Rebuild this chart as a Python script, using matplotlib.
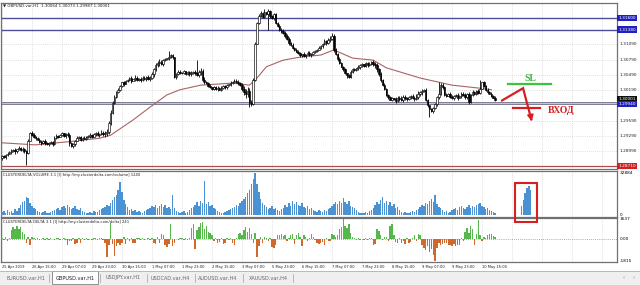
import numpy as np
import matplotlib.pyplot as plt
from matplotlib.patches import Rectangle
from matplotlib.lines import Line2D

# ---- data (GBPUSD H1, 25 Apr - 10 May 2019) ----
close = [1.2890, 1.2888, 1.2893, 1.2895,
         1.2898, 1.2900, 1.2902, 1.2899, 1.2903, 1.2905, 1.2901, 1.2904,
         1.2900, 1.2897,
         1.2920, 1.2935, 1.2932, 1.2928,
         1.2925, 1.2922, 1.2918, 1.2916, 1.2920,
         1.2915, 1.2913, 1.2916, 1.2917, 1.2914,
         1.2926, 1.2930, 1.2928, 1.2932, 1.2935, 1.2929, 1.2933, 1.2931,
         1.2915, 1.2910, 1.2913,
         1.2920, 1.2925, 1.2927, 1.2922, 1.2926, 1.2924, 1.2928,
         1.2930, 1.2932, 1.2928, 1.2933, 1.2935, 1.2931, 1.2934, 1.2936, 1.2933, 1.2935, 1.2937,
         1.2955, 1.2975, 1.2995,
         1.3005, 1.3015, 1.3020, 1.3028,
         1.3035, 1.3032, 1.3038,
         1.3040, 1.3043, 1.3038, 1.3041, 1.3044, 1.3040, 1.3042, 1.3039, 1.3043, 1.3041, 1.3045, 1.3042, 1.3044,
         1.3050, 1.3060, 1.3068, 1.3072,
         1.3075, 1.3070, 1.3078, 1.3080, 1.3082,
         1.3085, 1.3088, 1.3084,
         1.3045,
         1.3050, 1.3055, 1.3052, 1.3053, 1.3056, 1.3051, 1.3054, 1.3050, 1.3053, 1.3055, 1.3052, 1.3049, 1.3054, 1.3057,
         1.3040, 1.3035, 1.3033,
         1.3028, 1.3025, 1.3022, 1.3026, 1.3021, 1.3024, 1.3020, 1.3023, 1.3027, 1.3025, 1.3029, 1.3031, 1.3034, 1.3035,
         1.3038, 1.3036, 1.3033, 1.3030,
         1.3022, 1.3015, 1.3012, 1.3018,
         1.2995, 1.2992,
         1.3040, 1.3110, 1.3150, 1.3165,
         1.3170, 1.3162, 1.3172, 1.3168, 1.3175, 1.3164, 1.3160, 1.3168,
         1.3150, 1.3145, 1.3138, 1.3135, 1.3132,
         1.3125, 1.3120, 1.3112, 1.3108, 1.3102, 1.3098, 1.3094,
         1.3092, 1.3088, 1.3090, 1.3086, 1.3089, 1.3092, 1.3088, 1.3090, 1.3093, 1.3095, 1.3098, 1.3102, 1.3105,
         1.3110, 1.3115, 1.3112, 1.3118, 1.3120,
         1.3125,
         1.3098, 1.3090,
         1.3080, 1.3072, 1.3065, 1.3060,
         1.3052, 1.3048, 1.3045,
         1.3055, 1.3060, 1.3058, 1.3062, 1.3064,
         1.3068, 1.3070, 1.3066, 1.3072, 1.3069, 1.3071, 1.3074, 1.3070, 1.3068,
         1.3060, 1.3050, 1.3040, 1.3030, 1.3022,
         1.3010, 1.3005, 1.3000, 1.3003, 1.3001, 1.2998, 1.3004, 1.3002, 1.3000, 1.3006,
         1.3003, 1.3001, 1.3005, 1.3008, 1.3004, 1.3002, 1.3006, 1.3012, 1.3015, 1.3018,
         1.3020,
         1.3000, 1.2990, 1.2982, 1.2978, 1.2985, 1.2992,
         1.3005, 1.3012, 1.3030, 1.3025,
         1.3010, 1.3008, 1.3012, 1.3006, 1.3003, 1.3008, 1.3010, 1.3004, 1.3007, 1.3012, 1.3009, 1.3005, 1.3011,
         1.2996,
         1.3010, 1.3015, 1.3012, 1.3018, 1.3014, 1.3022, 1.3035, 1.3028,
         1.3020, 1.3015, 1.3012, 1.3008, 1.3004, 1.3000]
first_open = 1.2886

# upper / lower shadow of each bar in pips, one digit per bar
upper_wick = ("231324231423213243123423"
              "213243122134532142313223"
              "132425356453423213212314"
              "213432324354642312231243"
              "231324234564532312132423"
              "213243324577653423432132"
              "323243534423243213243232"
              "132243454532431212323143"
              "213243545342312321434533"
              "232435634232132324343423"
              "321324343524323213232313")
lower_wick = ("324213243213423132312423"
              "132423213243524312231324"
              "213243465342312324132413"
              "324213243543523213242312"
              "123243243465423132231324"
              "324213435686432312321243"
              "232324243432312432312321"
              "213324353423213242131234"
              "312432456453223132324243"
              "323243545323213243232312"
              "232413243423232312231212")
# longer wicks: bar index -> (high, low)
wicks = {13: (None, 1.2872), 89: (1.3095, None), 104: (1.3078, None),
         132: (None, 1.2986), 140: (1.3178, None), 142: (None, 1.3137),
         176: (1.3131, None), 228: (None, 1.2967), 233: (1.3036, None),
         255: (1.3040, None)}

ma_idx = [0, 18, 35, 52, 58, 70, 79, 88, 95, 106, 123, 132, 136, 141, 150,
          159, 170, 177, 187, 198, 205, 223, 240, 255, 261]
ma_val = [1.2916, 1.2912, 1.2918, 1.2925, 1.2931, 1.2961, 1.2986, 1.3010, 1.3020,
          1.3029, 1.3033, 1.3029, 1.3043, 1.3065, 1.3078, 1.3084, 1.3088, 1.3098,
          1.3082, 1.3078, 1.3063, 1.3043, 1.3029, 1.3023, 1.3020]

volume = [2400, 3200, 1600, 4000, 2400, 3200, 2000, 4800, 3200, 5600,
          8000, 10400, 11200, 14400, 13600, 9600, 7200, 5600, 4800,
          3200, 2400, 1600, 2400, 3200, 2000, 1600, 2400, 3200, 4000,
          4800, 5600, 4000, 6400, 7200, 5600, 8000, 6400, 4800, 5600, 7200, 4800, 4000, 5600, 3200,
          2400, 1600, 2000, 2400, 1600, 3200, 2400, 2800, 4000, 4800,
          5600, 6400, 8000, 7200, 9600, 12000, 14400, 16000, 20000, 25600, 18400, 12000, 8800, 6400,
          4000, 4800, 3200, 4000, 2400, 3200, 2400, 1600, 3200, 4000, 4800,
          5600, 7200, 6400, 8000, 5600, 7200, 8800, 6400, 8000, 5600, 6400, 4800, 16000, 5600,
          3200, 2400, 1600, 2400, 3200, 2000, 2400, 4000, 5600,
          6400, 8000, 10400, 7200, 11200, 9600, 26400, 8800, 10400, 7200, 8000, 5600, 4800,
          3200, 2400, 2000, 1600, 2400, 3200, 4000, 4800,
          5600, 6400, 8000, 7200, 9600, 11200, 12800, 14400, 17600, 20000, 24000, 28000, 32884,
          24000, 18400, 12800, 9600, 8000,
          6400, 4800, 5600, 7200, 4800, 5600, 4000, 3200, 4800,
          5600, 8000, 6400, 9600, 7200, 11200, 8800, 10400, 8000, 7200, 9600, 6400, 5600, 7200, 4800, 5600, 4000,
          3200, 2400, 4000, 3200, 2400, 4000, 3200, 4800,
          5600, 7200, 8800, 10400, 8800, 11200, 9600, 13600, 10400, 8800, 11200, 7200, 6400, 5600, 4000,
          2400, 1600, 2000, 1600, 2400, 1600, 3200, 4000,
          5600, 8000, 10400, 8800, 12000, 14400, 9600, 11200, 8000, 10400, 7200, 8800, 5600, 6400, 4000,
          2400, 1600, 2400, 2000, 1600, 2400, 3200, 2400, 4000, 4800,
          6400, 8000, 7200, 9600, 8800, 11200, 12800, 10400, 16000, 8800, 6400, 5600, 4000,
          2400, 3200, 1600, 2400, 4000,
          4800, 5600, 4000, 6400, 7200, 5600, 4800, 6400, 8000, 5600, 7200, 6400, 8000, 8800,
          9600, 7200, 6400, 4800, 5600, 4000, 3200, 2400, 1600]

delta = [120, -80, 200, -150, 90,
         700, 1000, 860, 1100, 780, 950, 600, 400,
         -300, 200, -450, 150,
         60, -50, 80, -90, 40, 100, -60, 50, -40, 70, 30, -80, 90, 60, -70, 40, 120, -100,
         -500, -200,
         -150, 100, -400, -350, 80, -300, 60, -120, 90, -50,
         40, -60, 80, 50, -40, 100, 60, -80,
         -300, -1450, -500, 1300, -400, -1350, -600, -300,
         -450, -350, 150, -400, 100, -200, 80, -300, -350, 60,
         50, -40, 60, -80, 40, 100, -60, 50,
         -350, -400, 200, -300, 450, 350,
         -500, -650, -400, 1250, -550, -300,
         40, -50, 60, 80, -40, 50, -60, 70,
         900, 1200, -850, 700, 1000, 1300, 1400, 800, 1100, 600, 500, 300,
         -200, 100, -300, -250, 60, -400, -300, 80, -100, 50,
         -350, -450, 100, 400, 500, 350, 700, 1000,
         600, 900, 400, -300, 500, -1450, -600, 200, -300, 150,
         100, -200, 80, -650, -700, -500, 300,
         350, 400, 250, 300, -150, 80,
         300, 450, -400, 350, 500, 200, -600, 300, 150, -200, 100, 400, 200, -100,
         -350, -400, -300, -250, -500, 100, -150, -200,
         400, 350, 200,
         300, 800, 1000, 1637, 1100, 900, 1250, 500, 200,
         60, -80, 100, -50, 40, -60, 80, -100, 50, 60,
         -450, -400, 800, 650, 300,
         -100, 150, 200, -150, 1100, 1200, 300,
         -250, -300, 100, -350, -200, -400, 80, -300, -250, 100, 300, -150, 400,
         350, -500, -700, -900, -600, -1100, -800, -1300, -1815, -700, -350, -450, -400, -300, -350,
         -500, -450, -550, -400, -600, -500, -450, 100, -200,
         600, 900, 500, 1100, 800, -450, 400, 1560,
         300, -200, 150, 80, 350, 450, 380, 250, 150]

boxed_idx = [277, 278, 279, 280, 281, 282]
boxed_vol = [7000, 12000, 17000, 21000, 22500, 20000]

price_ticks = [1.28990, 1.29290, 1.29590, 1.30190, 1.30490, 1.30790, 1.31090]
blue_levels = [1.31600, 1.31380]
entry_level = 1.29940
low_level = 1.28710
last_price = 1.30001

time_labels = ["25 Apr 2019", "26 Apr 15:00", "29 Apr 07:00", "29 Apr 23:00", "30 Apr 15:00",
               "1 May 07:00", "1 May 23:00", "2 May 15:00", "3 May 07:00", "5 May 23:00",
               "6 May 15:00", "7 May 07:00", "7 May 23:00", "8 May 15:00", "9 May 07:00",
               "9 May 23:00", "10 May 15:00"]
tabs = ["EURUSD.var,H1", "GBPUSD.var,H1", "USDJPY.var,H1", "USDCAD.var,H4",
        "AUDUSD.var,H4", "XAUUSD.var,H4"]

# ---- figure ----
W, H = 640, 285
fig = plt.figure(figsize=(6.4, 2.85), dpi=100)
fig.patch.set_facecolor("white")

def fx(px):
    return px / W

def fy(py):
    return 1 - py / H

left, right = fx(1), fx(617)
ax1 = fig.add_axes([left, fy(169), right - left, (169 - 3) / H])
ax2 = fig.add_axes([left, fy(217), right - left, (217 - 171) / H])
ax3 = fig.add_axes([left, fy(262), right - left, (262 - 218) / H])

XMAX = 328
grid_kw = dict(color="#c4c4c4", lw=0.5, ls=(0, (1, 2)), zorder=0)
vgrid = np.arange(0, XMAX, 16)
for ax in (ax1, ax2, ax3):
    ax.set_xlim(-0.5, XMAX)
    ax.set_xticks([])
    ax.set_yticks([])
    for s in ax.spines.values():
        s.set_color("#707070")
        s.set_linewidth(0.9)
    for v in vgrid:
        ax.axvline(v, **grid_kw)

# ---- price candles ----
close = np.array(close)
n = len(close)
x = np.arange(n)
opn = np.concatenate([[first_open], close[:-1]])
uw = np.zeros(n)
lw_ = np.zeros(n)
m = min(n, len(upper_wick))
uw[:m] = [int(c) for c in upper_wick[:m]]
m = min(n, len(lower_wick))
lw_[:m] = [int(c) for c in lower_wick[:m]]
high = np.maximum(opn, close) + uw * 0.0001
low = np.minimum(opn, close) - lw_ * 0.0001
for i, (h, l) in wicks.items():
    if i < n:
        if h is not None:
            high[i] = max(high[i], h)
        if l is not None:
            low[i] = min(low[i], l)

ax1.set_ylim(1.28647, 1.31900)
for t in price_ticks:
    ax1.axhline(t, **grid_kw)
ax1.vlines(x, low, high, color="black", lw=0.6, zorder=3)
up = close >= opn
body_h = np.maximum(np.abs(close - opn), 0.00004)
ax1.bar(x[up], body_h[up], bottom=opn[up], width=0.8, color="white",
        edgecolor="black", lw=0.45, zorder=4)
ax1.bar(x[~up], body_h[~up], bottom=close[~up], width=0.8, color="black",
        edgecolor="black", lw=0.45, zorder=4)
ax1.plot(ma_idx, ma_val, color="#a86464", lw=0.8, zorder=2)

for lv in blue_levels:
    ax1.axhline(lv, color="#4d4d99", lw=1.0, zorder=1)
ax1.axhline(entry_level, color="#70708a", lw=2.0, zorder=1)
ax1.axhline(entry_level, color="#d8d8e0", lw=0.6, zorder=1)
ax1.axhline(low_level, color="#a85050", lw=0.9, zorder=1)

ytr = ax1.get_yaxis_transform()
for t in price_ticks:
    ax1.text(1.004, t, "%.5f" % t, transform=ytr, fontsize=3.1, va="center",
             ha="left", color="#202020", clip_on=False)

def tag(ax, y, txt, fc):
    ax.text(1.002, y, txt, transform=ax.get_yaxis_transform(), fontsize=3.1,
            va="center", ha="left", color="white", clip_on=False,
            bbox=dict(boxstyle="square,pad=0.25", fc=fc, ec="none"))

tag(ax1, blue_levels[0], "1.31600", "#2020c0")
tag(ax1, blue_levels[1], "1.31380", "#2020c0")
tag(ax1, last_price + 0.0002, "1.30001", "#101010")
tag(ax1, entry_level - 0.0002, "1.29940", "#2020c0")
tag(ax1, low_level, "1.28710", "#d02020")

# annotations drawn on the chart
red = "#d42020"
ax1.plot([266.7, 277.9, 282.3], [1.2999, 1.3023, 1.2962], color=red, lw=1.6,
         solid_joinstyle="miter", zorder=6)
ax1.annotate("", xy=(282.8, 1.2953), xytext=(281.6, 1.2975),
             arrowprops=dict(arrowstyle="-|>,head_width=0.18,head_length=0.35",
                             color=red, lw=1.2), zorder=6)
ax1.plot([272.5, 287], [1.2984, 1.2984], color=red, lw=1.6, zorder=6)
ax1.plot([270, 293], [1.3031, 1.3031], color="#3cc43c", lw=1.6, zorder=6)
ax1.text(281.6, 1.3034, "SL", color="#3cb43c", fontsize=7, fontweight="bold",
         family=["Liberation Serif", "DejaVu Serif"], ha="center", va="bottom")
ax1.text(291, 1.2979, "ВХОД", color=red, fontsize=7, fontweight="bold",
         family=["Liberation Serif", "DejaVu Serif"], ha="left", va="center")

# ---- volume ----
vol = np.array(volume)
ax2.set_ylim(-1500, 34500)
ax2.bar(np.arange(len(vol)), vol, width=0.75, color="#4a92d4", lw=0, zorder=3)
ax2.bar(boxed_idx, boxed_vol, width=0.75, color="#4a92d4", lw=0, zorder=3)
ytr2 = ax2.get_yaxis_transform()
ax2.text(1.004, 32884, "32884", transform=ytr2, fontsize=3.1, va="center", clip_on=False)
ax2.text(1.004, 0, "0", transform=ytr2, fontsize=3.1, va="center", clip_on=False)

# ---- delta ----
dl = np.array(delta)
ax3.set_ylim(-1880, 1720)
ax3.axhline(0, color="#909090", lw=0.6, ls=(0, (1, 1.5)), zorder=1)
cols = np.where(dl >= 0, "#56b84c", "#d2692c")
ax3.bar(np.arange(len(dl)), dl, width=0.75, color=cols, lw=0, zorder=3)
ytr3 = ax3.get_yaxis_transform()
for v, s in [(1637, "1637"), (0, "0.00"), (-1815, "-1815")]:
    ax3.text(1.004, v, s, transform=ytr3, fontsize=3.1, va="center", clip_on=False)

# ---- texts ----
fig.text(fx(3), fy(5.5), "▼ GBPUSD.var,H1  1.30064 1.30073 1.29987 1.30001",
         fontsize=2.9, va="center", color="#202020")
fig.text(fx(3), fy(175), "CLUSTERDELTA VOLUME 3.1 [I] http://my.clusterdelta.com/volume] 1240",
         fontsize=2.7, va="center", color="#202020")
fig.text(fx(3), fy(221.5), "CLUSTERDELTA DELTA 3.1 [I] http://my.clusterdelta.com/delta] 241",
         fontsize=2.7, va="center", color="#202020")

xtr = ax3.get_xaxis_transform()
for k, lab in enumerate(time_labels):
    ax3.text(k * 16, -0.06, lab, transform=xtr, fontsize=2.6, ha="left", va="top",
             color="#202020", clip_on=False)

# red box around the drawn volume bars
fig.patches.append(Rectangle((fx(515), fy(222)), fx(22), 39 / H, transform=fig.transFigure,
                             fill=False, ec=red, lw=1.5, zorder=10))

# tab bar
fig.patches.append(Rectangle((0, 0), 1, 14 / H, transform=fig.transFigure,
                             fc="#efefef", ec="none", zorder=0))
fig.lines.append(Line2D([0, 1], [fy(271), fy(271)], transform=fig.transFigure,
                        color="#b0b0b0", lw=0.6))
fig.patches.append(Rectangle((fx(52), fy(284)), fx(46), 13 / H, transform=fig.transFigure,
                             fc="white", ec="#808080", lw=0.6, zorder=1))
tab_centers = [26, 75, 123, 170, 218, 268]
for c, t in zip(tab_centers, tabs):
    fig.text(fx(c), fy(278), t, fontsize=3.6, ha="center", va="center",
             color="#202020" if t.startswith("GBP") else "#666666", zorder=2)
for sx in [49, 100, 147, 195, 243, 293]:
    fig.lines.append(Line2D([fx(sx), fx(sx)], [fy(274), fy(282)], transform=fig.transFigure,
                            color="#a0a0a0", lw=0.5))
fig.text(fx(624), fy(278), "‹", fontsize=4, ha="center", va="center", color="#808080")
fig.text(fx(634), fy(278), "›", fontsize=4, ha="center", va="center", color="#808080")

fig.savefig("out.png", dpi=100)
